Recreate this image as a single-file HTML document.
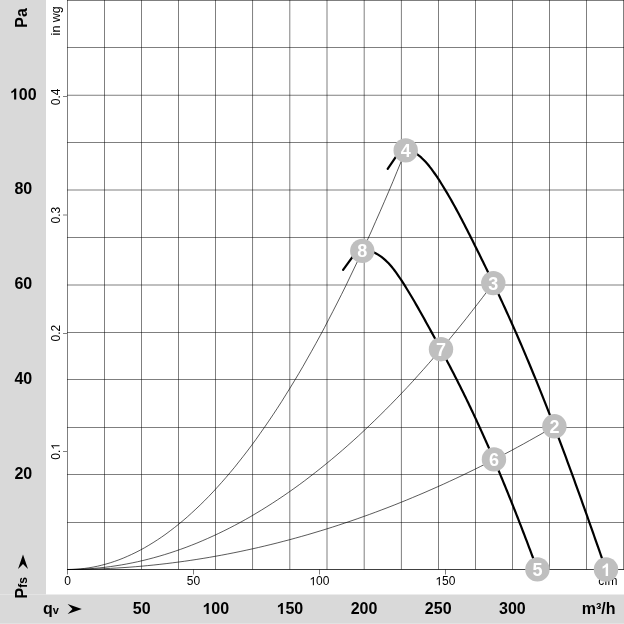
<!DOCTYPE html>
<html><head><meta charset="utf-8"><style>html,body{margin:0;padding:0;background:#fff;overflow:hidden;width:624px;height:624px}svg{display:block;will-change:transform}</style></head><body>
<svg width="624" height="624" viewBox="0 0 624 624">
<rect x="0" y="0" width="624" height="624" fill="#fff"/>
<rect x="0" y="0" width="46" height="594.5" fill="#d9d9d9"/>
<rect x="0" y="594.5" width="624" height="28.5" fill="#d9d9d9"/>
<rect x="0" y="623" width="624" height="1" fill="#e2e2e2"/>
<path d="M67.5,0V574.5 M104.5,0V569.5 M141.5,0V569.5 M178.5,0V569.5 M215.5,0V569.5 M252.55,0V569.5 M289.8,0V569.5 M327.0,0V569.5 M364.2,0V569.5 M401.4,0V569.5 M438.5,0V569.5 M475.5,0V569.5 M512.5,0V569.5 M549.5,0V569.5 M586.5,0V569.5 M623.5,0V569.5 M67.0,522.5H624 M67.0,474.5H624 M67.0,427.5H624 M67.0,379.5H624 M67.0,332.5H624 M67.0,285.0H624 M67.0,237.5H624 M67.0,190.0H624 M67.0,142.5H624 M67.0,95.25H624 M67.0,47.5H624 M67.0,0.5H624" stroke="#000" stroke-opacity="0.5" stroke-width="1" fill="none"/>
<path d="M67.0,569.5H624" stroke="#000" stroke-opacity="0.75" stroke-width="1" fill="none"/>
<path d="M63,451.5H67.0 M63,333.5H67.0 M63,215.0H67.0 M63,96.5H67.0 M193.5,569.5V574.5 M319.5,569.5V574.5 M445.5,569.5V574.5" stroke="#000" stroke-opacity="0.5" stroke-width="1" fill="none"/>
<g transform="translate(59.500,451.357) rotate(-90)"><text x="-8.341" y="0" font-family='"Liberation Sans", sans-serif' font-size="12" fill="#000">0. </text><path transform="translate(1.667,0) scale(0.005859,-0.005859)" d="M763,0H583V1147Q518,1085 412,1023Q306,961 222,930V1104Q373,1175 486,1276Q599,1377 646,1409H763Z" fill="#000"/></g>
<g transform="translate(59.500,333.213) rotate(-90)"><text x="-8.341" y="0" font-family='"Liberation Sans", sans-serif' font-size="12" fill="#000">0.2</text></g>
<g transform="translate(59.500,215.070) rotate(-90)"><text x="-8.341" y="0" font-family='"Liberation Sans", sans-serif' font-size="12" fill="#000">0.3</text></g>
<g transform="translate(59.500,96.926) rotate(-90)"><text x="-8.341" y="0" font-family='"Liberation Sans", sans-serif' font-size="12" fill="#000">0.4</text></g>
<text transform="translate(59.8,20.8) rotate(-90)" text-anchor="middle" font-family='"Liberation Sans", sans-serif' font-size="12.5">in wg</text>
<g transform="translate(67.500,585.300)"><text x="-3.337" y="0" font-family='"Liberation Sans", sans-serif' font-size="12" fill="#000">0</text></g>
<g transform="translate(193.465,585.300)"><text x="-6.674" y="0" font-family='"Liberation Sans", sans-serif' font-size="12" fill="#000">50</text></g>
<g transform="translate(319.429,585.300)"><text x="-10.011" y="0" font-family='"Liberation Sans", sans-serif' font-size="12" fill="#000"> 00</text><path transform="translate(-10.011,0) scale(0.005859,-0.005859)" d="M763,0H583V1147Q518,1085 412,1023Q306,961 222,930V1104Q373,1175 486,1276Q599,1377 646,1409H763Z" fill="#000"/></g>
<g transform="translate(445.394,585.300)"><text x="-10.011" y="0" font-family='"Liberation Sans", sans-serif' font-size="12" fill="#000"> 50</text><path transform="translate(-10.011,0) scale(0.005859,-0.005859)" d="M763,0H583V1147Q518,1085 412,1023Q306,961 222,930V1104Q373,1175 486,1276Q599,1377 646,1409H763Z" fill="#000"/></g>
<text x="598.2" y="585.3" font-family='"Liberation Sans", sans-serif' font-size="12">cfm</text>
<g transform="translate(23.300,99.600)"><text x="-13.348" y="0" font-family='"Liberation Sans", sans-serif' font-size="16" font-weight="bold" fill="#000"> 00</text><path transform="translate(-13.348,0) scale(0.007812,-0.007812)" d="M806,0H531V1036Q380,895 177,828V1077Q284,1112 409,1209Q534,1306 580,1409H806Z" fill="#000"/></g>
<g transform="translate(23.300,194.460)"><text x="-8.898" y="0" font-family='"Liberation Sans", sans-serif' font-size="16" font-weight="bold" fill="#000">80</text></g>
<g transform="translate(23.300,289.320)"><text x="-8.898" y="0" font-family='"Liberation Sans", sans-serif' font-size="16" font-weight="bold" fill="#000">60</text></g>
<g transform="translate(23.300,384.180)"><text x="-8.898" y="0" font-family='"Liberation Sans", sans-serif' font-size="16" font-weight="bold" fill="#000">40</text></g>
<g transform="translate(23.300,479.040)"><text x="-8.898" y="0" font-family='"Liberation Sans", sans-serif' font-size="16" font-weight="bold" fill="#000">20</text></g>
<text transform="translate(27,18) rotate(-90)" text-anchor="middle" font-family='"Liberation Sans", sans-serif' font-weight="bold" font-size="16">Pa</text>
<text transform="translate(26.8,598.5) rotate(-90)" font-family='"Liberation Sans", sans-serif' font-weight="bold" font-size="16">P<tspan font-size="12">fs</tspan></text>
<path d="M23,554.6 L28,569 L23,564 L18,569 Z" fill="#000"/>
<g transform="translate(141.640,613.900)"><text x="-8.898" y="0" font-family='"Liberation Sans", sans-serif' font-size="16" font-weight="bold" fill="#000">50</text></g>
<g transform="translate(215.780,613.900)"><text x="-13.348" y="0" font-family='"Liberation Sans", sans-serif' font-size="16" font-weight="bold" fill="#000"> 00</text><path transform="translate(-13.348,0) scale(0.007812,-0.007812)" d="M806,0H531V1036Q380,895 177,828V1077Q284,1112 409,1209Q534,1306 580,1409H806Z" fill="#000"/></g>
<g transform="translate(289.920,613.900)"><text x="-13.348" y="0" font-family='"Liberation Sans", sans-serif' font-size="16" font-weight="bold" fill="#000"> 50</text><path transform="translate(-13.348,0) scale(0.007812,-0.007812)" d="M806,0H531V1036Q380,895 177,828V1077Q284,1112 409,1209Q534,1306 580,1409H806Z" fill="#000"/></g>
<g transform="translate(364.060,613.900)"><text x="-13.348" y="0" font-family='"Liberation Sans", sans-serif' font-size="16" font-weight="bold" fill="#000">200</text></g>
<g transform="translate(438.200,613.900)"><text x="-13.348" y="0" font-family='"Liberation Sans", sans-serif' font-size="16" font-weight="bold" fill="#000">250</text></g>
<g transform="translate(512.340,613.900)"><text x="-13.348" y="0" font-family='"Liberation Sans", sans-serif' font-size="16" font-weight="bold" fill="#000">300</text></g>
<text x="43" y="613.9" font-family='"Liberation Sans", sans-serif' font-weight="bold" font-size="16">q<tspan font-size="11">v</tspan></text>
<path d="M81.8,609 L67.6,604 L72.5,609 L67.6,614.1 Z" fill="#000"/>
<text x="615.5" y="613.9" text-anchor="end" font-family='"Liberation Sans", sans-serif' font-weight="bold" font-size="16">m³/h</text>
<path d="M67.5,569.50 L71.8,569.43 L76.1,569.23 L80.3,568.90 L84.6,568.43 L88.9,567.82 L93.2,567.08 L97.5,566.21 L101.7,565.20 L106.0,564.06 L110.3,562.78 L114.6,561.37 L118.9,559.83 L123.2,558.15 L127.4,556.34 L131.7,554.39 L136.0,552.31 L140.3,550.09 L144.6,547.74 L148.8,545.26 L153.1,542.64 L157.4,539.89 L161.7,537.00 L166.0,533.98 L170.2,530.82 L174.5,527.53 L178.8,524.11 L183.1,520.55 L187.4,516.85 L191.6,513.03 L195.9,509.06 L200.2,504.97 L204.5,500.74 L208.8,496.37 L213.1,491.87 L217.3,487.24 L221.6,482.47 L225.9,477.57 L230.2,472.53 L234.5,467.36 L238.7,462.06 L243.0,456.62 L247.3,451.05 L251.6,445.34 L255.9,439.50 L260.1,433.52 L264.4,427.41 L268.7,421.16 L273.0,414.79 L277.3,408.27 L281.6,401.62 L285.8,394.84 L290.1,387.93 L294.4,380.87 L298.7,373.69 L303.0,366.37 L307.2,358.92 L311.5,351.33 L315.8,343.61 L320.1,335.75 L324.4,327.76 L328.6,319.63 L332.9,311.37 L337.2,302.98 L341.5,294.45 L345.8,285.79 L350.0,276.99 L354.3,268.06 L358.6,259.00 L362.9,249.80 L367.2,240.46 L371.5,230.99 L375.7,221.39 L380.0,211.66 L384.3,201.78 L388.6,191.78 L392.9,181.64 L397.1,171.37 L401.4,160.96 L405.7,150.41" stroke="#000" stroke-width="0.65" fill="none"/>
<path d="M67.5,569.50 L72.9,569.45 L78.3,569.32 L83.7,569.09 L89.1,568.77 L94.4,568.35 L99.8,567.85 L105.2,567.25 L110.6,566.56 L116.0,565.78 L121.4,564.91 L126.8,563.95 L132.2,562.89 L137.6,561.75 L143.0,560.51 L148.3,559.18 L153.7,557.76 L159.1,556.24 L164.5,554.64 L169.9,552.94 L175.3,551.15 L180.7,549.27 L186.1,547.30 L191.5,545.23 L196.9,543.08 L202.2,540.83 L207.6,538.49 L213.0,536.06 L218.4,533.54 L223.8,530.92 L229.2,528.22 L234.6,525.42 L240.0,522.53 L245.4,519.55 L250.8,516.47 L256.1,513.31 L261.5,510.05 L266.9,506.70 L272.3,503.26 L277.7,499.73 L283.1,496.11 L288.5,492.39 L293.9,488.58 L299.3,484.68 L304.7,480.69 L310.0,476.61 L315.4,472.44 L320.8,468.17 L326.2,463.81 L331.6,459.36 L337.0,454.82 L342.4,450.19 L347.8,445.46 L353.2,440.65 L358.6,435.74 L363.9,430.74 L369.3,425.65 L374.7,420.46 L380.1,415.19 L385.5,409.82 L390.9,404.36 L396.3,398.81 L401.7,393.17 L407.1,387.44 L412.5,381.61 L417.8,375.69 L423.2,369.69 L428.6,363.58 L434.0,357.39 L439.4,351.11 L444.8,344.73 L450.2,338.26 L455.6,331.70 L461.0,325.05 L466.4,318.31 L471.7,311.47 L477.1,304.55 L482.5,297.53 L487.9,290.42 L493.3,283.22" stroke="#000" stroke-width="0.65" fill="none"/>
<path d="M67.5,569.50 L73.7,569.48 L79.8,569.41 L86.0,569.29 L92.2,569.13 L98.3,568.93 L104.5,568.67 L110.6,568.38 L116.8,568.03 L123.0,567.64 L129.1,567.21 L135.3,566.72 L141.5,566.20 L147.6,565.62 L153.8,565.00 L159.9,564.34 L166.1,563.63 L172.3,562.87 L178.4,562.07 L184.6,561.22 L190.8,560.32 L196.9,559.38 L203.1,558.40 L209.3,557.36 L215.4,556.28 L221.6,555.16 L227.7,553.99 L233.9,552.77 L240.1,551.51 L246.2,550.20 L252.4,548.85 L258.6,547.45 L264.7,546.01 L270.9,544.51 L277.1,542.98 L283.2,541.39 L289.4,539.77 L295.5,538.09 L301.7,536.37 L307.9,534.60 L314.0,532.79 L320.2,530.93 L326.4,529.03 L332.5,527.08 L338.7,525.08 L344.8,523.04 L351.0,520.95 L357.2,518.82 L363.3,516.64 L369.5,514.41 L375.7,512.14 L381.8,509.82 L388.0,507.46 L394.2,505.05 L400.3,502.60 L406.5,500.10 L412.6,497.55 L418.8,494.96 L425.0,492.32 L431.1,489.63 L437.3,486.90 L443.5,484.13 L449.6,481.30 L455.8,478.44 L462.0,475.52 L468.1,472.56 L474.3,469.56 L480.4,466.51 L486.6,463.41 L492.8,460.27 L498.9,457.08 L505.1,453.84 L511.3,450.56 L517.4,447.23 L523.6,443.86 L529.7,440.44 L535.9,436.98 L542.1,433.47 L548.2,429.91 L554.4,426.31" stroke="#000" stroke-width="0.65" fill="none"/>
<path d="M387.7,168.8 L398.22,153.37 M406.86,148.15 L409.55,149.39 L412.13,150.78 L414.59,152.32 L416.96,153.99 L419.23,155.79 L421.41,157.70 L423.51,159.73 L425.53,161.84 L427.48,164.04 L429.36,166.32 L431.19,168.66 L432.96,171.05 L434.69,173.49 L436.38,175.96 L438.04,178.45 L439.67,180.96 L441.27,183.48 L442.85,186.01 L444.41,188.55 L445.95,191.09 L447.47,193.64 L448.96,196.21 L450.44,198.77 L451.91,201.35 L453.35,203.93 L454.79,206.52 L456.20,209.12 L457.61,211.72 L459.00,214.32 L460.38,216.94 L461.75,219.55 L463.12,222.17 L464.47,224.80 L465.82,227.42 L467.16,230.05 L468.50,232.69 L469.83,235.32 L471.16,237.96 L472.49,240.60 L473.81,243.25 L475.13,245.89 L476.45,248.54 L477.77,251.19 L479.08,253.84 L480.39,256.49 L481.69,259.15 L482.99,261.80 L484.29,264.46 L485.59,267.12 L486.88,269.79 L488.17,272.45 L489.45,275.12 L490.73,277.79 L492.01,280.46 L493.28,283.14 L494.55,285.81 L495.82,288.49 L497.08,291.17 L498.34,293.85 L499.59,296.54 L500.84,299.22 L502.09,301.91 L503.33,304.60 L504.56,307.29 L505.80,309.99 L507.03,312.68 L508.25,315.38 L509.47,318.08 L510.68,320.78 L511.89,323.49 L513.10,326.19 L514.30,328.90 L515.49,331.61 L516.69,334.32 L517.87,337.03 L519.05,339.75 L520.23,342.47 L521.40,345.19 L522.57,347.91 L523.73,350.63 L524.89,353.36 L526.05,356.08 L527.20,358.81 L528.34,361.54 L529.48,364.27 L530.62,367.00 L531.75,369.74 L532.88,372.48 L534.01,375.21 L535.13,377.95 L536.24,380.70 L537.36,383.44 L538.46,386.18 L539.57,388.93 L540.67,391.68 L541.77,394.42 L542.86,397.18 L543.95,399.93 L545.04,402.68 L546.13,405.43 L547.21,408.19 L548.28,410.95 L549.36,413.71 L550.43,416.46 L551.49,419.23 L552.56,421.99 L553.62,424.75 L554.68,427.52 L555.73,430.28 L556.79,433.05 L557.83,435.82 L558.88,438.58 L559.93,441.35 L560.97,444.12 L562.00,446.90 L563.04,449.67 L564.07,452.44 L565.11,455.22 L566.13,457.99 L567.16,460.77 L568.18,463.55 L569.21,466.33 L570.22,469.11 L571.24,471.89 L572.26,474.67 L573.27,477.45 L574.28,480.23 L575.29,483.01 L576.30,485.80 L577.30,488.58 L578.31,491.37 L579.31,494.15 L580.31,496.94 L581.31,499.72 L582.31,502.51 L583.30,505.30 L584.30,508.09 L585.29,510.88 L586.28,513.67 L587.27,516.46 L588.26,519.25 L589.25,522.04 L590.23,524.83 L591.22,527.62 L592.20,530.41 L593.19,533.20 L594.17,535.99 L595.15,538.79 L596.13,541.58 L597.11,544.37 L598.09,547.16 L599.07,549.96 L600.05,552.75 L601.03,555.54 L602.01,558.34 L602.98,561.13 L603.96,563.92 L604.94,566.72 L605.91,569.51" stroke="#000" stroke-width="2.2" fill="none" stroke-linecap="round" stroke-linejoin="round"/>
<path d="M343.1,269.8 L354.95,253.56 M362.50,249.24 L364.98,249.61 L367.38,250.13 L369.68,250.78 L371.89,251.56 L374.03,252.47 L376.08,253.49 L378.06,254.62 L379.97,255.85 L381.81,257.18 L383.59,258.60 L385.31,260.10 L386.97,261.68 L388.58,263.33 L390.14,265.04 L391.66,266.81 L393.14,268.63 L394.58,270.50 L395.98,272.40 L397.36,274.33 L398.71,276.28 L400.03,278.25 L401.34,280.23 L402.63,282.22 L403.91,284.21 L405.17,286.21 L406.42,288.21 L407.66,290.21 L408.89,292.22 L410.10,294.23 L411.31,296.25 L412.50,298.27 L413.69,300.29 L414.86,302.32 L416.03,304.35 L417.20,306.38 L418.35,308.41 L419.50,310.44 L420.65,312.48 L421.79,314.52 L422.93,316.55 L424.06,318.59 L425.19,320.64 L426.33,322.68 L427.46,324.72 L428.58,326.76 L429.71,328.81 L430.83,330.85 L431.96,332.90 L433.08,334.95 L434.20,337.00 L435.31,339.05 L436.43,341.10 L437.54,343.15 L438.65,345.20 L439.75,347.25 L440.86,349.31 L441.96,351.37 L443.06,353.42 L444.16,355.48 L445.25,357.55 L446.34,359.61 L447.43,361.67 L448.51,363.74 L449.59,365.81 L450.67,367.87 L451.75,369.94 L452.82,372.02 L453.89,374.09 L454.95,376.17 L456.01,378.25 L457.07,380.33 L458.12,382.41 L459.17,384.49 L460.22,386.58 L461.26,388.66 L462.30,390.75 L463.33,392.85 L464.36,394.94 L465.39,397.04 L466.41,399.13 L467.42,401.24 L468.44,403.34 L469.45,405.44 L470.45,407.55 L471.46,409.66 L472.45,411.77 L473.45,413.88 L474.44,415.99 L475.43,418.11 L476.41,420.23 L477.39,422.35 L478.37,424.47 L479.34,426.59 L480.31,428.71 L481.27,430.84 L482.24,432.97 L483.19,435.10 L484.15,437.23 L485.10,439.36 L486.05,441.50 L487.00,443.63 L487.94,445.77 L488.88,447.91 L489.81,450.05 L490.74,452.19 L491.67,454.34 L492.60,456.48 L493.52,458.63 L494.44,460.77 L495.36,462.92 L496.27,465.07 L497.19,467.22 L498.09,469.38 L499.00,471.53 L499.90,473.69 L500.80,475.84 L501.70,478.00 L502.59,480.16 L503.49,482.32 L504.38,484.48 L505.26,486.64 L506.15,488.81 L507.03,490.97 L507.91,493.13 L508.78,495.30 L509.66,497.47 L510.53,499.64 L511.40,501.80 L512.26,503.97 L513.13,506.15 L513.99,508.32 L514.85,510.49 L515.71,512.66 L516.56,514.84 L517.42,517.01 L518.27,519.19 L519.12,521.36 L519.96,523.54 L520.81,525.72 L521.65,527.89 L522.49,530.07 L523.33,532.25 L524.17,534.43 L525.00,536.61 L525.84,538.79 L526.67,540.97 L527.50,543.15 L528.33,545.34 L529.15,547.52 L529.98,549.70 L530.80,551.89 L531.62,554.07 L532.44,556.25 L533.26,558.44 L534.08,560.62 L534.89,562.81 L535.71,564.99 L536.52,567.18 L537.33,569.36" stroke="#000" stroke-width="2.2" fill="none" stroke-linecap="round" stroke-linejoin="round"/>
<circle cx="606" cy="569.5" r="12.2" fill="#bfbfbf"/>
<g transform="translate(606.000,576.000)"><text x="-5.005" y="0" font-family='"Liberation Sans", sans-serif' font-size="18" font-weight="bold" fill="#fff"> </text><path transform="translate(-5.005,0) scale(0.008789,-0.008789)" d="M806,0H531V1036Q380,895 177,828V1077Q284,1112 409,1209Q534,1306 580,1409H806Z" fill="#fff"/></g>
<circle cx="554.4" cy="426.3" r="12.2" fill="#bfbfbf"/>
<g transform="translate(554.400,432.800)"><text x="-5.005" y="0" font-family='"Liberation Sans", sans-serif' font-size="18" font-weight="bold" fill="#fff">2</text></g>
<circle cx="493.3" cy="283.1" r="12.2" fill="#bfbfbf"/>
<g transform="translate(493.300,289.600)"><text x="-5.005" y="0" font-family='"Liberation Sans", sans-serif' font-size="18" font-weight="bold" fill="#fff">3</text></g>
<circle cx="405.7" cy="150.4" r="12.2" fill="#bfbfbf"/>
<g transform="translate(405.700,156.900)"><text x="-5.005" y="0" font-family='"Liberation Sans", sans-serif' font-size="18" font-weight="bold" fill="#fff">4</text></g>
<circle cx="537.4" cy="569.4" r="12.2" fill="#bfbfbf"/>
<g transform="translate(537.400,575.900)"><text x="-5.005" y="0" font-family='"Liberation Sans", sans-serif' font-size="18" font-weight="bold" fill="#fff">5</text></g>
<circle cx="493.95" cy="459.4" r="12.2" fill="#bfbfbf"/>
<g transform="translate(493.950,465.900)"><text x="-5.005" y="0" font-family='"Liberation Sans", sans-serif' font-size="18" font-weight="bold" fill="#fff">6</text></g>
<circle cx="441" cy="349.2" r="12.2" fill="#bfbfbf"/>
<g transform="translate(441.000,355.700)"><text x="-5.005" y="0" font-family='"Liberation Sans", sans-serif' font-size="18" font-weight="bold" fill="#fff">7</text></g>
<circle cx="362.3" cy="250.9" r="12.2" fill="#bfbfbf"/>
<g transform="translate(362.300,257.400)"><text x="-5.005" y="0" font-family='"Liberation Sans", sans-serif' font-size="18" font-weight="bold" fill="#fff">8</text></g>
</svg>
</body></html>
